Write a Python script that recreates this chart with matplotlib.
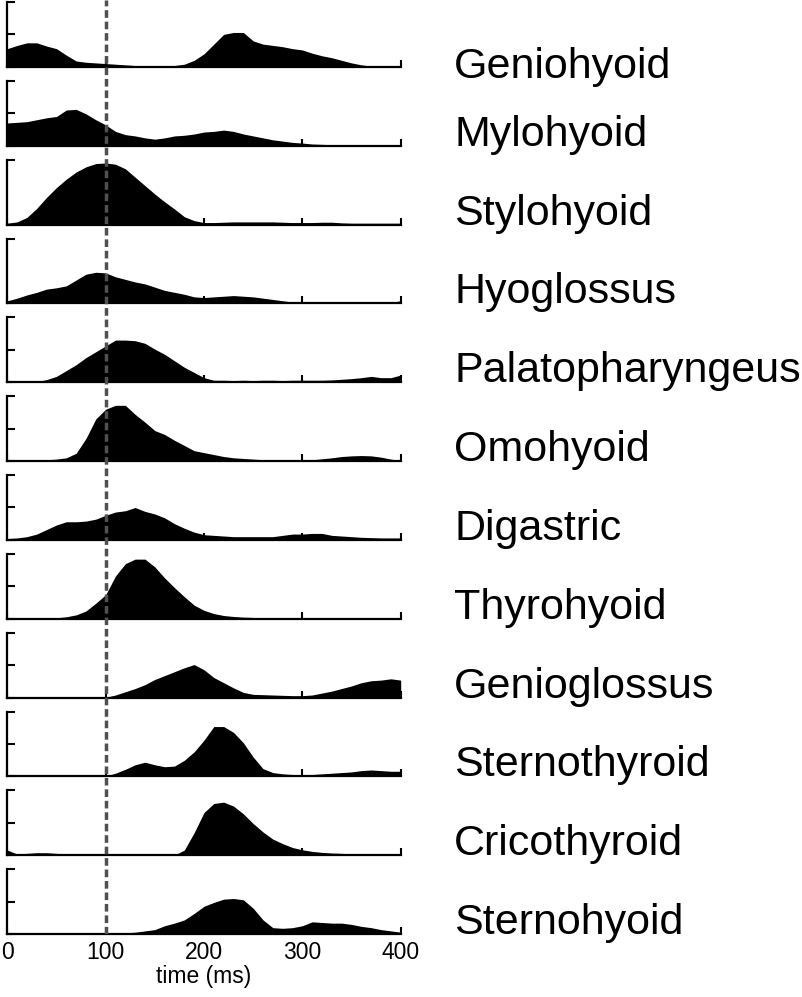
import matplotlib
matplotlib.use("Agg")
import matplotlib.pyplot as plt
import numpy as np

plt.rcParams['font.family'] = ['Liberation Sans', 'DejaVu Sans']

# time axis (ms), sampled every 10 ms
t = np.arange(0, 401, 10)

muscles = ["Geniohyoid", "Mylohyoid", "Stylohyoid", "Hyoglossus",
           "Palatopharyngeus", "Omohyoid", "Digastric", "Thyrohyoid",
           "Genioglossus", "Sternothyroid", "Cricothyroid", "Sternohyoid"]

geniohyoid = [0.28, 0.33, 0.37, 0.37, 0.32, 0.28, 0.18, 0.09, 0.07, 0.06,
              0.05, 0.04, 0.03, 0.02, 0.01, 0.01, 0.01, 0.02, 0.04, 0.10,
              0.20, 0.35, 0.50, 0.53, 0.53, 0.40, 0.35, 0.33, 0.31, 0.28,
              0.26, 0.21, 0.17, 0.14, 0.10, 0.06, 0.03, 0.01, 0.005, 0.005,
              0.005]
mylohyoid = [0.35, 0.36, 0.37, 0.40, 0.43, 0.45, 0.55, 0.56, 0.49, 0.40,
             0.32, 0.22, 0.17, 0.15, 0.12, 0.10, 0.12, 0.15, 0.16, 0.18,
             0.21, 0.22, 0.24, 0.22, 0.18, 0.15, 0.12, 0.09, 0.07, 0.05,
             0.04, 0.025, 0.02, 0.015, 0.015, 0.015, 0.015, 0.015, 0.015, 0.015,
             0.015]
stylohyoid = [0.02, 0.04, 0.11, 0.25, 0.42, 0.57, 0.70, 0.81, 0.89, 0.94,
              0.95, 0.93, 0.86, 0.73, 0.60, 0.47, 0.35, 0.24, 0.12, 0.06,
              0.03, 0.03, 0.035, 0.04, 0.04, 0.04, 0.04, 0.04, 0.035, 0.03,
              0.03, 0.03, 0.035, 0.035, 0.025, 0.02, 0.02, 0.02, 0.02, 0.02,
              0.02]
hyoglossus = [0.04, 0.08, 0.13, 0.17, 0.22, 0.24, 0.27, 0.36, 0.45, 0.48,
              0.47, 0.41, 0.37, 0.33, 0.30, 0.25, 0.20, 0.17, 0.14, 0.10,
              0.09, 0.10, 0.11, 0.12, 0.11, 0.10, 0.08, 0.06, 0.04, 0.02,
              0.01, 0.01, 0.01, 0.01, 0.01, 0.01, 0.01, 0.01, 0.01, 0.015,
              0.04]
palatopharyngeus = [0.005, 0.005, 0.005, 0.01, 0.04, 0.09, 0.18, 0.27, 0.38, 0.47,
                    0.56, 0.65, 0.65, 0.64, 0.60, 0.51, 0.43, 0.33, 0.23, 0.15,
                    0.07, 0.03, 0.03, 0.025, 0.03, 0.025, 0.03, 0.03, 0.025, 0.03,
                    0.03, 0.03, 0.03, 0.035, 0.045, 0.055, 0.07, 0.09, 0.07, 0.07,
                    0.11]
omohyoid = [0.01, 0.01, 0.01, 0.01, 0.02, 0.03, 0.05, 0.12, 0.35, 0.65,
            0.80, 0.86, 0.86, 0.72, 0.60, 0.47, 0.41, 0.32, 0.24, 0.16,
            0.13, 0.10, 0.07, 0.05, 0.04, 0.03, 0.02, 0.01, 0.01, 0.01,
            0.01, 0.02, 0.035, 0.05, 0.07, 0.08, 0.085, 0.08, 0.06, 0.03,
            0.01]
digastric = [0.02, 0.03, 0.05, 0.09, 0.16, 0.23, 0.28, 0.28, 0.29, 0.32,
             0.38, 0.43, 0.45, 0.50, 0.44, 0.40, 0.34, 0.25, 0.18, 0.12,
             0.08, 0.07, 0.06, 0.05, 0.05, 0.05, 0.05, 0.05, 0.07, 0.09,
             0.09, 0.10, 0.10, 0.07, 0.06, 0.05, 0.04, 0.035, 0.03, 0.03,
             0.03]
thyrohyoid = [0.005, 0.005, 0.005, 0.005, 0.01, 0.015, 0.03, 0.06, 0.12, 0.24,
              0.37, 0.66, 0.85, 0.92, 0.92, 0.80, 0.63, 0.48, 0.34, 0.21,
              0.13, 0.08, 0.05, 0.035, 0.025, 0.02, 0.01, 0.01, 0.01, 0.01,
              0.01, 0.01, 0.01, 0.01, 0.01, 0.01, 0.01, 0.01, 0.01, 0.01,
              0.01]
genioglossus = [0.015, 0.015, 0.015, 0.012, 0.01, 0.01, 0.008, 0.005, 0.005, 0.003,
                0.005, 0.04, 0.09, 0.14, 0.20, 0.28, 0.34, 0.40, 0.46, 0.51,
                0.43, 0.31, 0.23, 0.15, 0.08, 0.05, 0.045, 0.04, 0.035, 0.03,
                0.03, 0.04, 0.07, 0.10, 0.14, 0.18, 0.23, 0.26, 0.27, 0.29,
                0.27]
sternothyroid = [0.015, 0.015, 0.015, 0.012, 0.012, 0.01, 0.01, 0.008, 0.006, 0.005,
                 0.005, 0.05, 0.11, 0.18, 0.22, 0.18, 0.15, 0.16, 0.25, 0.38,
                 0.56, 0.77, 0.77, 0.68, 0.52, 0.30, 0.12, 0.06, 0.04, 0.03,
                 0.025, 0.03, 0.04, 0.05, 0.06, 0.07, 0.09, 0.10, 0.09, 0.08,
                 0.08]
cricothyroid = [0.08, 0.02, 0.03, 0.04, 0.04, 0.03, 0.015, 0.01, 0.005, 0.005,
                0.005, 0.005, 0.005, 0.005, 0.005, 0.005, 0.005, 0.005, 0.08, 0.35,
                0.66, 0.80, 0.82, 0.76, 0.64, 0.49, 0.36, 0.25, 0.18, 0.12,
                0.085, 0.06, 0.045, 0.035, 0.03, 0.02, 0.015, 0.015, 0.015, 0.015,
                0.015]
sternohyoid = [0.02, 0.02, 0.025, 0.025, 0.02, 0.015, 0.01, 0.01, 0.01, 0.01,
               0.005, 0.01, 0.02, 0.03, 0.05, 0.07, 0.13, 0.17, 0.22, 0.32,
               0.43, 0.49, 0.54, 0.55, 0.53, 0.40, 0.22, 0.10, 0.09, 0.10,
               0.13, 0.19, 0.18, 0.17, 0.17, 0.15, 0.12, 0.10, 0.07, 0.05,
               0.03]

series = [geniohyoid, mylohyoid, stylohyoid, hyoglossus, palatopharyngeus,
          omohyoid, digastric, thyrohyoid, genioglossus, sternothyroid,
          cricothyroid, sternohyoid]

# panels without the middle y tick
no_mid_tick = {"Stylohyoid", "Hyoglossus"}

W, H = 802, 997
fig = plt.figure(figsize=(W / 100, H / 100), dpi=100)

left = 7.3 / W
width = 393.4 / W
step = 78.85
panel_h = 64.8

for i, (name, vals) in enumerate(zip(muscles, series)):
    top = 2 + step * i
    ax = fig.add_axes([left, 1 - (top + panel_h) / H, width, panel_h / H])
    ax.fill_between(t, 0, vals, color='black', lw=0)
    ax.set_xlim(0, 400)
    ax.set_ylim(0, 1)
    for s in ('top', 'right'):
        ax.spines[s].set_visible(False)
    for s in ('left', 'bottom'):
        ax.spines[s].set_linewidth(1.6)
    ax.set_xticks([0, 100, 200, 300, 400])
    ax.set_yticks([0, 1] if name in no_mid_tick else [0, 0.5, 1])
    ax.tick_params(axis='y', direction='in', length=6, width=1.5, labelleft=False)
    ax.tick_params(axis='x', direction='in', length=5, width=1.5, pad=5,
                   labelsize=16.5, labelbottom=(i == len(muscles) - 1))
    dy = -8 if i == 0 else 0
    ax.annotate(name, xy=(1, 0), xycoords='axes fraction',
                xytext=(38.5, dy), textcoords='offset points',
                fontsize=31, ha='left', va='baseline')
    if i == len(muscles) - 1:
        ax.set_xlabel("time (ms)", fontsize=16.5, labelpad=1)
        last_bottom = top + panel_h

# dashed line at 100 ms running through all panels
over = fig.add_axes([left, 1 - last_bottom / H, width, last_bottom / H])
over.set_xlim(0, 400)
over.set_ylim(0, 1)
over.axis('off')
over.axvline(100, color='#505050', lw=2.5, linestyle=(0, (2.2, 1.1)))

fig.savefig("out.png", dpi=100)
